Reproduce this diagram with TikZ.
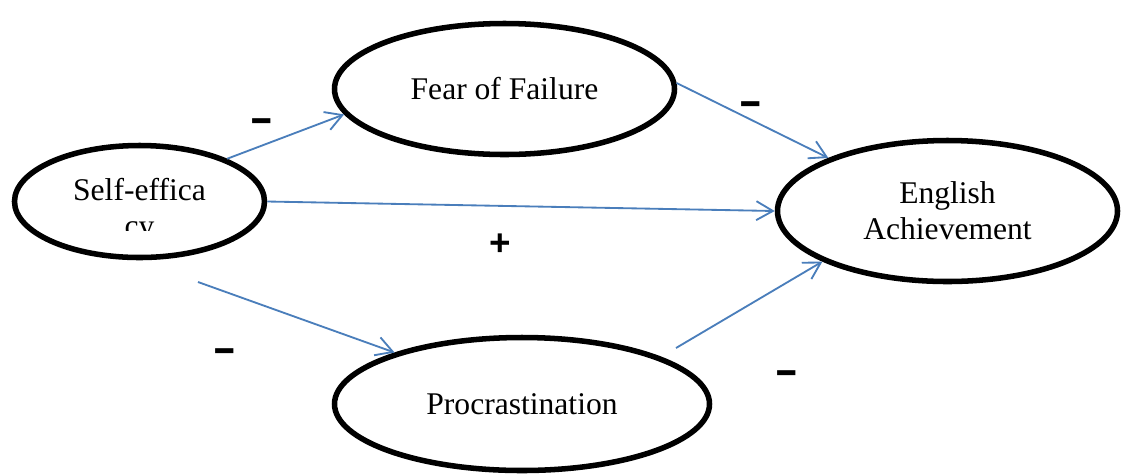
\documentclass[tikz,border=0pt]{standalone}
\usepackage{fontspec}
\setmainfont{Liberation Serif}
\newfontfamily\signfont{Liberation Sans}
\usetikzlibrary{shapes.geometric,arrows.meta}
\definecolor{linkblue}{RGB}{74,126,187}

\begin{document}
\begin{tikzpicture}[x=0.38pt,y=-0.38pt, %pixel grid, y downwards
	var/.style={draw, ellipse, line width=2.1pt, inner sep=0pt, align=center, font=\fontsize{12}{13.7}\selectfont},
	link/.style={draw=linkblue, line width=0.7pt, -{Straight Barb[length=6.3pt,width=7.2pt]}},
	sign/.style={inner sep=0pt, font=\signfont\bfseries\fontsize{14}{14}\selectfont}]

\useasboundingbox (0,0) rectangle (1123,475);

\node[var, minimum width={250*0.38pt}, minimum height={112*0.38pt}] (self) at (139.5,201.5) {};
\node[var, minimum width={340*0.38pt}, minimum height={131*0.38pt}] (fear) at (504.5,89) {Fear of Failure};
\node[var, minimum width={340*0.38pt}, minimum height={141*0.38pt}] (english) at (947.5,211) {English\\Achievement};
\node[var, minimum width={375*0.38pt}, minimum height={133*0.38pt}] (procr) at (522,404) {Procrastination};

% label of self, second line cut off
\node[anchor=base, font=\fontsize{12}{13.7}\selectfont] (selftext) at (139.5,200) {Self-effica};
\begin{scope}
	\clip (60,150) rectangle (220,230);
	\node[anchor=base, font=\fontsize{12}{13.7}\selectfont] (selfcut) at (139.5,236) {cy};
\end{scope}

\coordinate (selfgap) at (198,282);
\coordinate (procrgap) at (676,348);

\draw[link] (self.26) -- (fear.189);
\draw[link] (fear.2) -- (english.156);
\draw[link] (self.east) -- (english.west);
\draw[link] (selfgap) -- (procr.158);
\draw[link] (procrgap) -- (english.202);

\foreach \sx/\sy in {262/127,751/110,225/357,787/379}
	\node[sign] (minus\sx) at (\sx,\sy) {\scalebox{1}[1.35]{–}};
\node[sign] (plus) at (500,245) {+};

\end{tikzpicture}
\end{document}
